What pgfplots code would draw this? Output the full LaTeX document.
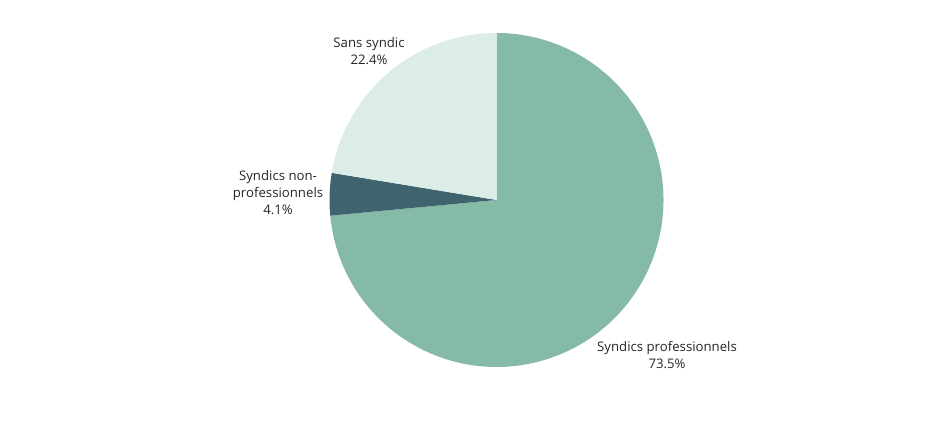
\documentclass[border=0pt]{standalone}
\usepackage{pgfplots}
\pgfplotsset{compat=1.18}
\usepackage{fontspec}
\setmainfont{Open Sans}
\definecolor{cpro}{HTML}{85BAA7}
\definecolor{cnon}{HTML}{40646F}
\definecolor{csans}{HTML}{DCEDE7}
\begin{document}
\begin{tikzpicture}[x=1bp,y=1bp]
\useasboundingbox (0,0) rectangle (935,437);
% values (percent)
\pgfmathsetmacro{\vpro}{73.5}
\pgfmathsetmacro{\vnon}{4.1}
\pgfmathsetmacro{\vsans}{22.4}
\pgfmathsetmacro{\aA}{90}
\pgfmathsetmacro{\aB}{90-3.6*\vpro}
\pgfmathsetmacro{\aC}{\aB-3.6*\vnon}
\pgfmathsetmacro{\aD}{\aC-3.6*\vsans}
\begin{axis}[at={(0,0)},anchor=south west,scale only axis,
  width=935bp,height=437bp,xmin=0,xmax=935,ymin=0,ymax=437,
  y dir=reverse,hide axis,clip=false]
\def\cx{496.5}\def\cy{200}\def\r{167}
\addplot[fill=cpro,draw=none,domain=\aB:\aA,samples=120,smooth]
  ({\cx+\r*cos(x)},{\cy-\r*sin(x)}) -- (axis cs:496.5,200) -- cycle;
\addplot[fill=cnon,draw=none,domain=\aC:\aB,samples=20]
  ({\cx+\r*cos(x)},{\cy-\r*sin(x)}) -- (axis cs:496.5,200) -- cycle;
\addplot[fill=csans,draw=none,domain=\aD:\aC,samples=50]
  ({\cx+\r*cos(x)},{\cy-\r*sin(x)}) -- (axis cs:496.5,200) -- cycle;
\tikzset{lab/.style={align=center,font=\fontsize{13.2bp}{17bp}\selectfont,inner sep=0pt,text=black!85}}
\node[lab] at (axis cs:369,51.5) {Sans syndic\\22.4\%};
\node[lab] at (axis cs:278,193) {Syndics non-\\professionnels\\4.1\%};
\node[lab] at (axis cs:667,355) {Syndics professionnels\\73.5\%};
\end{axis}
\end{tikzpicture}
\end{document}
